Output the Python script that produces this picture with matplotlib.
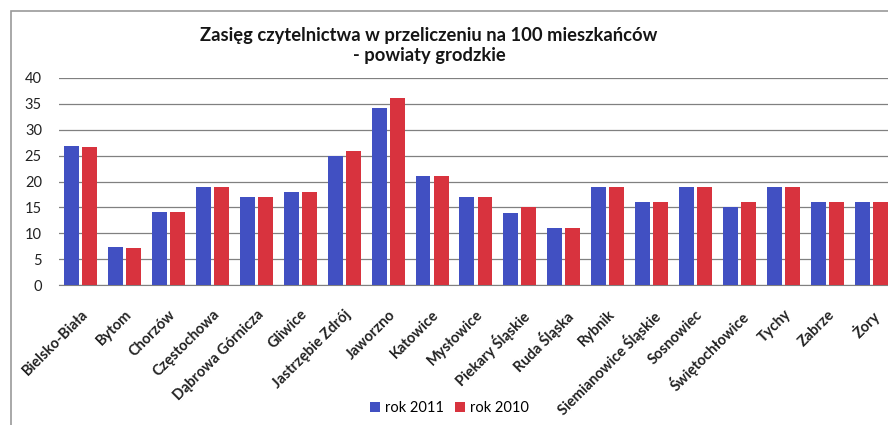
import numpy as np
import matplotlib
matplotlib.use("Agg")
import matplotlib.pyplot as plt
from matplotlib.patches import Rectangle

cities = ["Bielsko-Biała", "Bytom", "Chorzów", "Częstochowa", "Dąbrowa Górnicza",
          "Gliwice", "Jastrzębie Zdrój", "Jaworzno", "Katowice", "Mysłowice",
          "Piekary Śląskie", "Ruda Śląska", "Rybnik", "Siemianowice Śląskie",
          "Sosnowiec", "Świętochłowice", "Tychy", "Zabrze", "Żory"]
rok_2011 = [26.8, 7.3, 14.1, 19.0, 17.0, 18.0, 25.0, 34.3, 21.0, 17.0,
            14.0, 11.0, 19.0, 16.0, 19.0, 15.0, 19.0, 16.0, 16.0]
rok_2010 = [26.6, 7.2, 14.1, 19.0, 17.0, 18.0, 26.0, 36.2, 21.0, 17.0,
            15.0, 11.0, 19.0, 16.0, 19.0, 16.0, 19.0, 16.0, 16.0]

plt.rcParams['font.family'] = ['Lato', 'DejaVu Sans']

fig = plt.figure(figsize=(8.88, 4.25), dpi=100)
fig.patch.set_facecolor('white')
fig.patches.append(Rectangle((0.012, -0.05), 1.1, 1.025, transform=fig.transFigure,
                             fill=False, edgecolor='#9a9a9a', linewidth=1.2))

ax = fig.add_axes([0.066, 0.329, 0.94, 0.4875])
x = np.arange(len(cities))
w = 0.34
ax.bar(x - 0.205, rok_2011, w, color='#4150c2', label='rok 2011', zorder=3)
ax.bar(x + 0.205, rok_2010, w, color='#d8333e', label='rok 2010', zorder=3)

ax.set_ylim(0, 40)
ax.set_xlim(-0.5, len(cities) - 0.5)
ax.set_yticks(range(0, 41, 5))
ax.yaxis.grid(True, color='#808080', linewidth=0.9, zorder=0)
ax.set_axisbelow(True)
for s in ['top', 'right', 'left']:
    ax.spines[s].set_visible(False)
ax.spines['bottom'].set_color('#808080')
ax.tick_params(axis='y', length=0, labelsize=10.5, pad=12, colors='#222222')
ax.tick_params(axis='x', length=0, pad=16)
ax.set_xticks(x)
ax.set_xticklabels(cities, rotation=45, ha='right', va='top', rotation_mode='anchor',
                   fontsize=10.5, fontweight='bold', color='#222222')

fig.text(0.483, 0.893, "Zasięg czytelnictwa w przeliczeniu na 100 mieszkańców\n- powiaty grodzkie",
         ha='center', va='center', fontsize=13.2, fontweight='bold', color='#151515',
         linespacing=1.25)

fig.legend(loc='center', bbox_to_anchor=(0.506, 0.04), ncol=2, frameon=False,
           fontsize=10.5, handlelength=0.7, handleheight=0.7, handletextpad=0.3,
           columnspacing=0.8)

fig.savefig("out.png", dpi=100)
